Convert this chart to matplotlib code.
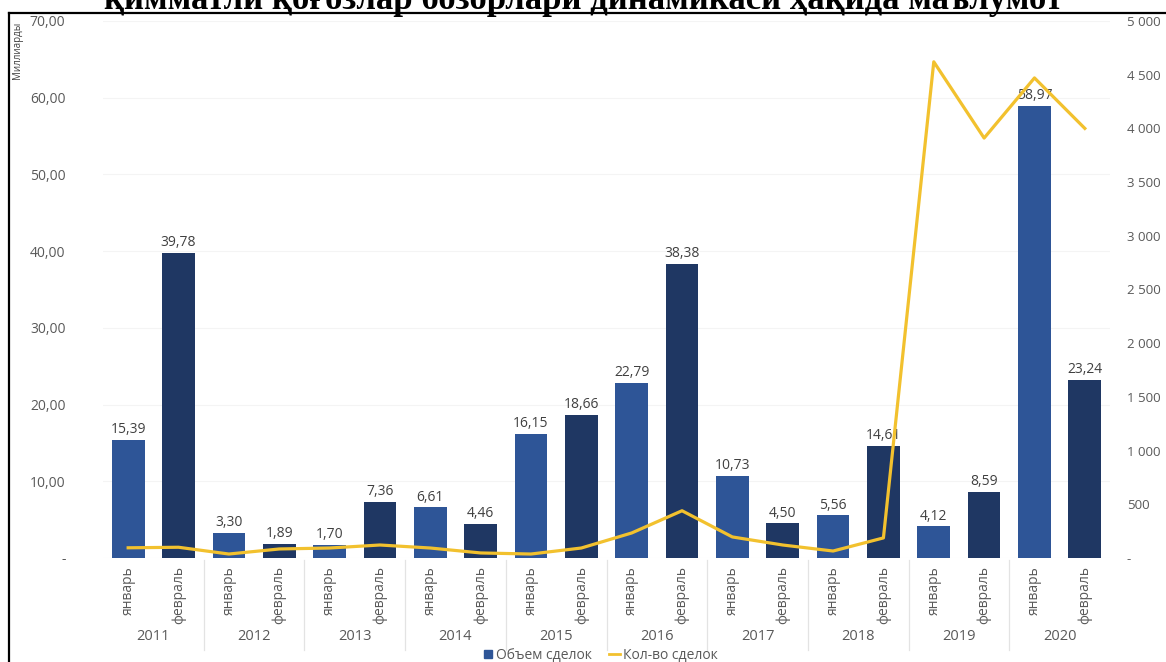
import matplotlib
matplotlib.use('Agg')
import matplotlib.pyplot as plt
import matplotlib.ticker as plticker
from matplotlib.lines import Line2D
from matplotlib.transforms import blended_transform_factory

plt.rcParams['font.family'] = ['Open Sans', 'DejaVu Sans']

title = 'қимматли қоғозлар бозорлари динамикаси ҳақида маълумот'
years = ['2011', '2012', '2013', '2014', '2015', '2016', '2017', '2018', '2019', '2020']
months = ['январь', 'февраль']

# объем сделок, млрд (январь, февраль по годам)
volume = [15.39, 39.78, 3.30, 1.89, 1.70, 7.36, 6.61, 4.46, 16.15, 18.66,
          22.79, 38.38, 10.73, 4.50, 5.56, 14.61, 4.12, 8.59, 58.97, 23.24]
# количество сделок (правая ось)
deals = [95, 100, 37, 84, 93, 121, 93, 47, 37, 93,
         233, 440, 196, 121, 65, 187, 4620, 3910, 4470, 4000]

c_jan = '#2E5597'
c_feb = '#1F3763'
c_line = '#F2C12E'
c_text = '#595959'

W, H = 1166, 662
fig = plt.figure(figsize=(W / 100, H / 100), dpi=100)
ax = fig.add_axes([103 / W, 1 - 558 / H, (1110 - 103) / W, (558 - 21) / H])
ax2 = ax.twinx()

n = len(volume)
xs = list(range(n))
colors = [c_jan if i % 2 == 0 else c_feb for i in xs]
ax.bar(xs, volume, width=0.65, color=colors, zorder=2)

for x, v in zip(xs, volume):
    ax.annotate(f'{v:.2f}'.replace('.', ','), (x, v), xytext=(0, 2),
                textcoords='offset points', ha='center', va='bottom',
                fontsize=10, color='#404040')

ax2.plot(xs, deals, color=c_line, linewidth=2.3, zorder=3)

ax.set_xlim(-0.5, n - 0.5)
ax.set_ylim(0, 70)
ax2.set_ylim(0, 5000)

ax.yaxis.set_major_locator(plticker.MultipleLocator(10))
ax2.yaxis.set_major_locator(plticker.MultipleLocator(500))
ax.yaxis.set_major_formatter(plticker.FuncFormatter(
    lambda v, p: '-' if v == 0 else f'{v:.2f}'.replace('.', ',')))
ax2.yaxis.set_major_formatter(plticker.FuncFormatter(
    lambda v, p: '-' if v == 0 else f'{int(v):,}'.replace(',', ' ')))

ax.grid(axis='y', color='#f4f4f4', linewidth=0.8, zorder=0)
ax.set_axisbelow(True)

for a in (ax, ax2):
    for s in a.spines.values():
        s.set_visible(False)

ax.tick_params(axis='y', length=0, pad=27, labelsize=10, labelcolor=c_text)
ax2.tick_params(axis='y', length=0, pad=12, labelsize=9.5, labelcolor=c_text)

ax.set_xticks(xs)
ax.set_xticklabels([months[i % 2] for i in xs], rotation=90, fontsize=10, color=c_text)
ax.tick_params(axis='x', length=0, pad=6)

# годы и разделители под осью
tr = blended_transform_factory(ax.transData, fig.transFigure)
for k, yr in enumerate(years):
    fig.text(2 * k + 0.5, 1 - 636 / H, yr, transform=tr, ha='center', va='center',
             fontsize=10.5, color=c_text)
for k in range(1, len(years)):
    fig.add_artist(Line2D([2 * k - 0.5, 2 * k - 0.5], [1 - 560 / H, 1 - 650 / H],
                          transform=tr, color='#e3e3e3', linewidth=0.9))

fig.text(18 / W, 1 - 22 / H, 'Миллиарды', rotation=90, ha='center', va='top',
         fontsize=7, color='#404040')

handles = [Line2D([], [], marker='s', linestyle='none', color=c_jan, markersize=6),
           Line2D([], [], color=c_line, linewidth=2)]
fig.legend(handles, ['Объем сделок', 'Кол-во сделок'], loc='center',
           bbox_to_anchor=(600 / W, 1 - 655 / H), ncol=2, frameon=False,
           fontsize=10, labelcolor=c_text, handlelength=0.8, handletextpad=0.2,
           columnspacing=1.2, borderpad=0)

# рамка и заголовок (в оригинале заголовок обрезан сверху)
fig.add_artist(Line2D([9 / W, 1], [1 - 13 / H, 1 - 13 / H], color='black', linewidth=1.6))
fig.add_artist(Line2D([9 / W, 9 / W], [0, 1 - 13 / H], color='black', linewidth=1.6))
fig.text(0.5, 1 - 9 / H, title, ha='center', va='baseline', fontsize=25,
         fontweight='bold', family='Liberation Serif')

fig.savefig('out.png', dpi=100)
